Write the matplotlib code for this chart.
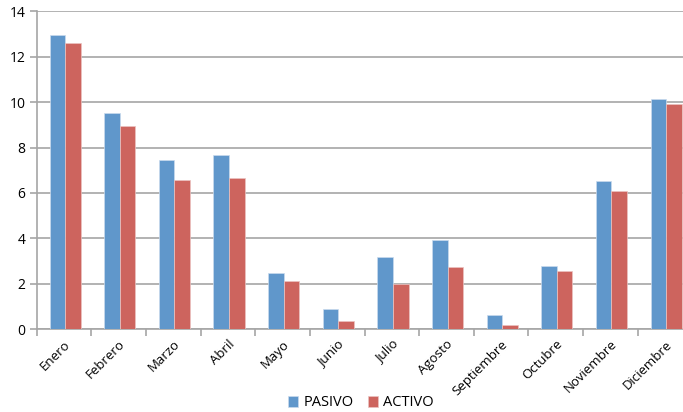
import matplotlib.pyplot as plt
import numpy as np

meses = ["Enero", "Febrero", "Marzo", "Abril", "Mayo", "Junio", "Julio",
         "Agosto", "Septiembre", "Octubre", "Noviembre", "Diciembre"]
pasivo = [12.96, 9.51, 7.47, 7.66, 2.49, 0.88, 3.17, 3.92, 0.62, 2.80, 6.53, 10.15]
activo = [12.59, 8.97, 6.59, 6.65, 2.11, 0.37, 1.99, 2.73, 0.19, 2.55, 6.10, 9.91]

plt.rcParams['font.family'] = ['Open Sans', 'DejaVu Sans']

fig = plt.figure(figsize=(6.83, 4.12), dpi=100)
# the plot area runs a little past the right edge of the figure
ax = fig.add_axes([0.0537, 0.2007, 0.960, 0.772])

x = np.arange(len(meses))
w = 0.285
azul = '#6097CB'
rojo = '#CD645E'
ax.bar(x - w / 2 + 0.02, pasivo, w, color=azul, edgecolor='#C9DBEE', linewidth=0.5,
       label='PASIVO', zorder=3)
ax.bar(x + w / 2 + 0.02, activo, w, color=rojo, edgecolor='#EBC3C1', linewidth=0.5,
       label='ACTIVO', zorder=3)

ax.set_xlim(-0.5, len(meses) - 0.5)
ax.set_ylim(0, 14)
ax.set_yticks(np.arange(0, 15, 2))
ax.yaxis.grid(True, color='#A6A6A6', linewidth=1.2, zorder=0)

# tick marks between months, labels at the centre of each month
ax.set_xticks(np.arange(-0.5, len(meses), 1.0))
ax.set_xticklabels([])
ax.set_xticks(x, minor=True)
ax.set_xticklabels(meses, minor=True, rotation=45, ha='right',
                   rotation_mode='anchor', fontsize=9.5)
ax.tick_params(axis='x', which='minor', length=0, pad=6)
ax.tick_params(axis='x', which='major', length=5, color='#A6A6A6', width=1.2)
ax.tick_params(axis='y', length=5, color='#A6A6A6', width=1.2, labelsize=10, pad=3)

for s in ['top', 'right']:
    ax.spines[s].set_visible(False)
for s in ['left', 'bottom']:
    ax.spines[s].set_color('#A6A6A6')
    ax.spines[s].set_linewidth(1.2)

fig.legend(loc='center', bbox_to_anchor=(361 / 683, 1 - 403 / 412), ncol=2,
           frameon=False, fontsize=10.5, handlelength=0.7, handleheight=0.7,
           handletextpad=0.35, columnspacing=1.0)

fig.savefig('out.png', dpi=100)
